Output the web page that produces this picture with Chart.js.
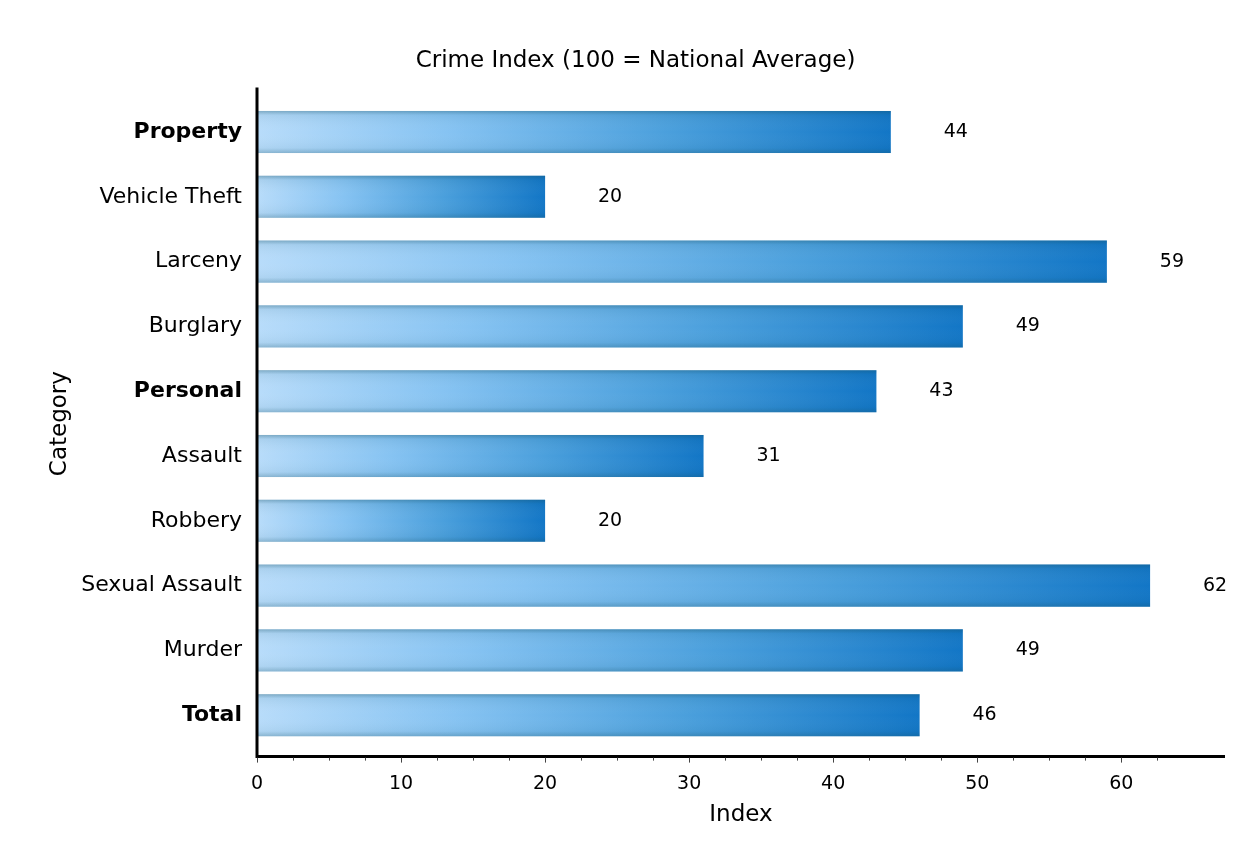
<!DOCTYPE html>
<html>
<head>
<meta charset="utf-8">
<script src="https://cdn.jsdelivr.net/npm/chart.js@4.4.1/dist/chart.umd.min.js"></script>
<style>
    html, body { margin: 0; padding: 0; background: #fff; }
    #wrap { width: 1257px; height: 852px; }
</style>
</head>
<body>
<div id="wrap"><canvas id="crimeChart"></canvas></div>
<script>
const categories = ['Property', 'Vehicle Theft', 'Larceny', 'Burglary', 'Personal', 'Assault', 'Robbery', 'Sexual Assault', 'Murder', 'Total'];
const indexValues = [44, 20, 59, 49, 43, 31, 20, 62, 49, 46];
const boldCategories = ['Property', 'Personal', 'Total'];
const xTickLabels = [0, 10, 20, 30, 40, 50, 60];

const FONT = "'DejaVu Sans', Verdana, sans-serif";

// axis lines + small ticks, drawn a little outside the plot like the original
const axisPlugin = {
    id: 'axisLines',
    afterDraw(chart) {
        const { ctx, chartArea, scales } = chart;
        const axisY = chartArea.bottom + 9;
        ctx.save();
        ctx.strokeStyle = '#000';
        ctx.lineWidth = 3;
        ctx.beginPath();
        ctx.moveTo(chartArea.left, chartArea.top - 12);
        ctx.lineTo(chartArea.left, axisY);
        ctx.lineTo(chartArea.right, axisY);
        ctx.stroke();

        ctx.lineWidth = 1;
        ctx.strokeStyle = '#444';
        scales.x.ticks.forEach(t => {
            if (t.value % 2.5 !== 0) return;
            const px = Math.round(scales.x.getPixelForValue(t.value)) + 0.5;
            ctx.beginPath();
            ctx.moveTo(px, axisY + 1);
            ctx.lineTo(px, axisY + (t.value % 10 === 0 ? 6 : 4));
            ctx.stroke();
        });
        ctx.restore();
    }
};

// numbers next to each bar
const valueLabels = {
    id: 'valueLabels',
    afterDatasetsDraw(chart) {
        const { ctx } = chart;
        const meta = chart.getDatasetMeta(0);
        ctx.save();
        ctx.fillStyle = '#000';
        ctx.font = '19px ' + FONT;
        ctx.textAlign = 'center';
        ctx.textBaseline = 'middle';
        meta.data.forEach((bar, i) => {
            ctx.fillText(indexValues[i], bar.x + 65, bar.y);
        });
        ctx.restore();
    }
};

// darker edges top and bottom of each bar
const barShade = {
    id: 'barShade',
    afterDatasetsDraw(chart) {
        const { ctx } = chart;
        const meta = chart.getDatasetMeta(0);
        ctx.save();
        meta.data.forEach(bar => {
            const top = bar.y - bar.height / 2;
            const g = ctx.createLinearGradient(0, top, 0, top + bar.height);
            g.addColorStop(0, 'rgba(20,80,100,0.35)');
            g.addColorStop(0.1, 'rgba(20,80,100,0.08)');
            g.addColorStop(0.5, 'rgba(255,255,255,0.0)');
            g.addColorStop(0.88, 'rgba(20,80,100,0.06)');
            g.addColorStop(1, 'rgba(20,80,100,0.28)');
            ctx.fillStyle = g;
            ctx.fillRect(bar.base, top, bar.x - bar.base, bar.height);
        });
        ctx.restore();
    }
};

function barGradient(context) {
    const chart = context.chart;
    if (!chart.chartArea || context.raw === undefined) return '#5aa8e6';
    const x = chart.scales.x;
    const x0 = x.getPixelForValue(0);
    const x1 = x.getPixelForValue(context.raw);
    const g = chart.ctx.createLinearGradient(x0, 0, x1, 0);
    g.addColorStop(0, '#b8dcfa');
    g.addColorStop(0.3, '#86c3f2');
    g.addColorStop(0.65, '#4a9fdc');
    g.addColorStop(1, '#1276c6');
    return g;
}

new Chart(document.getElementById('crimeChart'), {
    type: 'bar',
    data: {
        labels: categories,
        datasets: [{
            label: 'Index',
            data: indexValues,
            backgroundColor: barGradient,
            borderWidth: 0,
            barPercentage: 0.65,
            categoryPercentage: 1.0
        }]
    },
    plugins: [barShade, valueLabels, axisPlugin],
    options: {
        indexAxis: 'y',
        responsive: true,
        maintainAspectRatio: false,
        animation: false,
        layout: {
            padding: { top: 47, right: 32, bottom: 23, left: 46 }
        },
        plugins: {
            legend: { display: false },
            tooltip: { enabled: false },
            title: {
                display: true,
                text: 'Crime Index (100 = National Average)',
                color: '#000',
                font: { family: FONT, size: 23, weight: 'normal' },
                padding: { top: 0, bottom: 25 }
            }
        },
        scales: {
            x: {
                min: 0,
                max: 67.2,
                grid: { display: false },
                border: { display: false },
                ticks: {
                    stepSize: 2.5,
                    autoSkip: false,
                    maxRotation: 0,
                    padding: 17,
                    color: '#000',
                    font: { family: FONT, size: 19 },
                    callback: function(value) {
                        return xTickLabels.includes(value) ? String(value) : '';
                    }
                },
                title: {
                    display: true,
                    text: 'Index',
                    color: '#000',
                    font: { family: FONT, size: 23 },
                    padding: { top: -11, bottom: 0 }
                }
            },
            y: {
                offset: true,
                grid: { display: false },
                border: { display: false },
                afterFit: function(scale) {
                    scale.width = 257 - 46;
                },
                ticks: {
                    color: '#000',
                    padding: 7,
                    font: function(context) {
                        const label = categories[context.index];
                        return {
                            family: FONT,
                            size: 22,
                            weight: boldCategories.includes(label) ? 'bold' : 'normal'
                        };
                    }
                },
                title: {
                    display: true,
                    text: 'Category',
                    color: '#000',
                    font: { family: FONT, size: 23 },
                    padding: { top: 0, bottom: 0 }
                }
            }
        }
    }
});
</script>
</body>
</html>
